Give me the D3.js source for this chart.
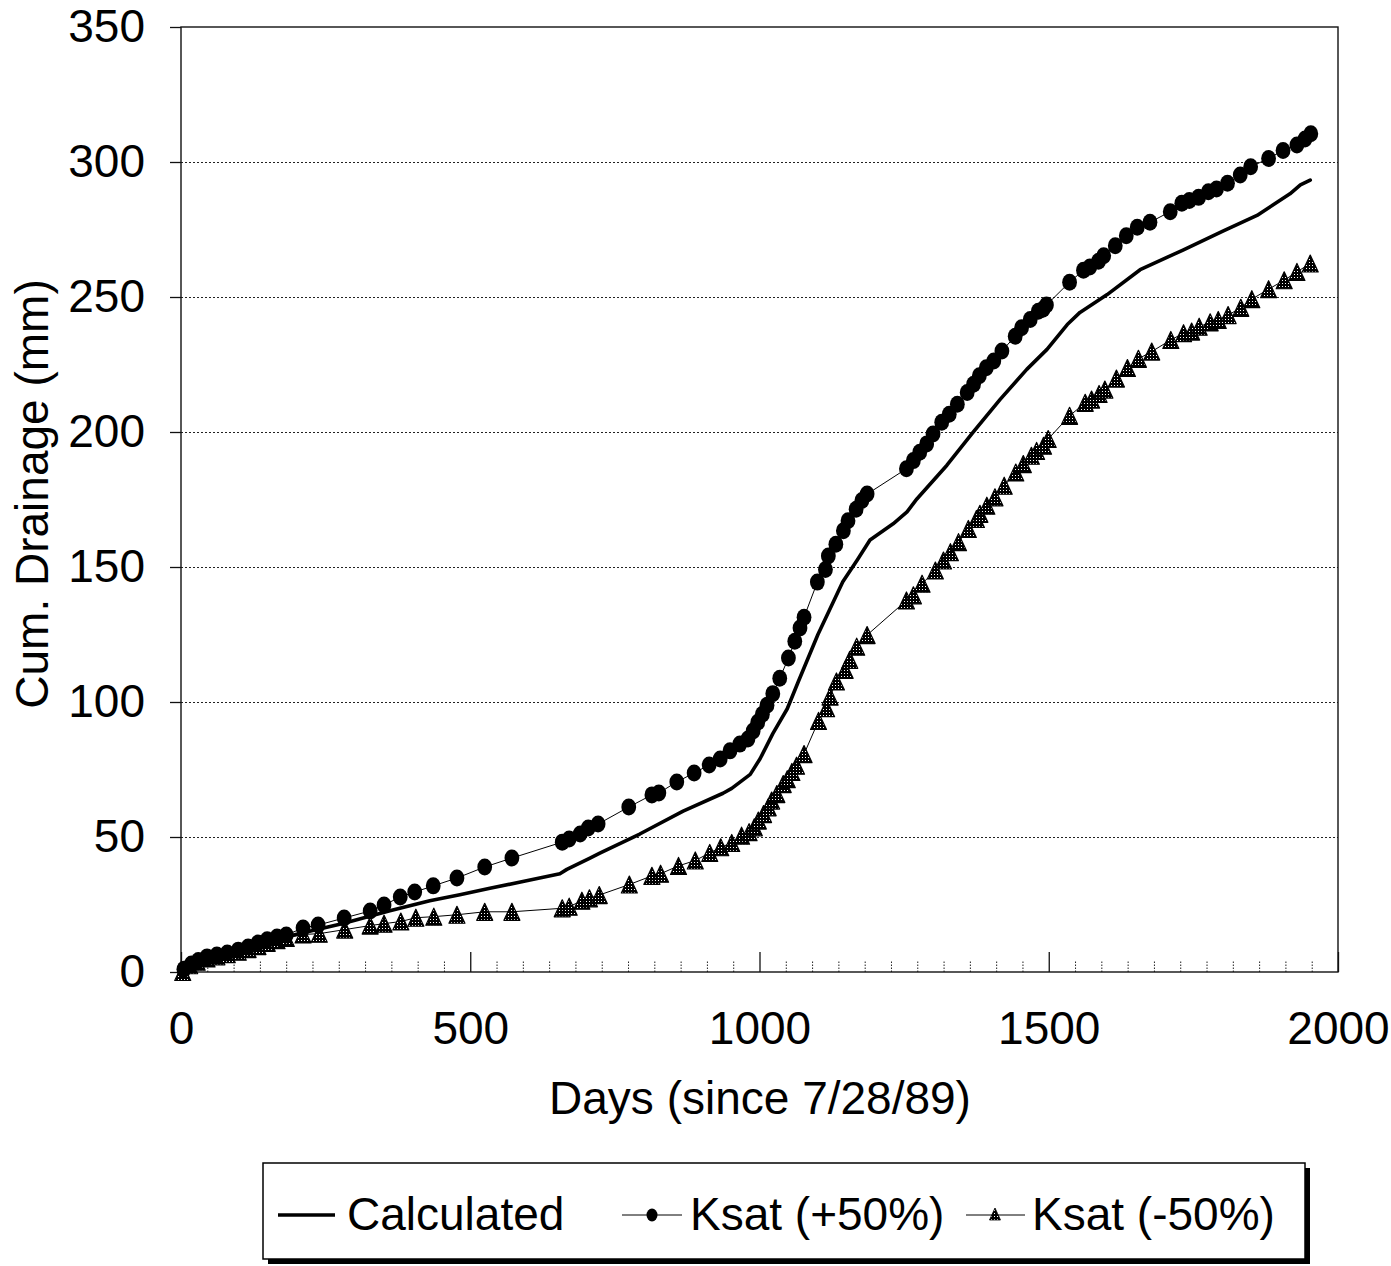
<!DOCTYPE html>
<html>
<head>
<meta charset="utf-8">
<script src="https://cdn.jsdelivr.net/npm/d3@7"></script>
<style>
  body { margin: 0; background: #fff; }
  svg { display: block; }
  text { font-family: "Liberation Sans", Arial, Helvetica, sans-serif; fill: #000; }
</style>
</head>
<body>
<svg id="chart" width="1391" height="1266"></svg>
<script>
// Cumulative drainage (mm) against days since 7/28/89
const calcDays = [0, 10, 30, 60, 100, 150, 200, 280, 361, 430, 482, 534, 591, 655, 667, 707, 724, 793, 868, 937, 952, 984, 1001, 1023, 1048, 1067, 1101, 1122, 1144, 1169, 1191, 1231, 1255, 1272, 1324, 1369, 1416, 1462, 1497, 1532, 1554, 1601, 1658, 1732, 1801, 1860, 1917, 1935, 1952];
const calcValues = [0, 1.5, 3.8, 6, 8.3, 11.3, 14, 18, 22.7, 26.4, 28.6, 31, 33.5, 36.4, 38, 42.2, 44, 51.1, 59.6, 66.2, 68, 73.2, 79, 88.3, 97.5, 107.5, 125, 134.5, 144.5, 152.6, 160, 166, 170.4, 175.2, 187.7, 199.9, 212.1, 223.2, 230.6, 239.8, 244.3, 250.9, 260.1, 267.4, 274.4, 280.2, 288.2, 291.5, 293.3];

const plusDays = [5, 18, 30, 45, 62, 80, 99, 116, 133, 149, 166, 182, 211, 237, 282, 327, 351, 379, 404, 436, 477, 525, 572, 659, 671, 690, 704, 721, 774, 814, 826, 857, 887, 913, 932, 949, 966, 980, 989, 997, 1005, 1013, 1023, 1035, 1050, 1061, 1070, 1077, 1100, 1114, 1119, 1132, 1145, 1153, 1167, 1177, 1186, 1254, 1266, 1277, 1289, 1300, 1315, 1328, 1342, 1359, 1370, 1380, 1392, 1405, 1419, 1442, 1453, 1468, 1482, 1490, 1496, 1536, 1560, 1571, 1586, 1595, 1615, 1634, 1653, 1675, 1710, 1730, 1743, 1759, 1776, 1790, 1809, 1831, 1849, 1880, 1905, 1929, 1943, 1953];
const plusValues = [1, 3, 4.3, 5.6, 6.3, 7.0, 8.1, 9.3, 10.7, 11.9, 13.0, 13.7, 16.3, 17.4, 20, 22.6, 24.8, 27.8, 29.6, 31.9, 34.8, 38.9, 42.2, 48.1, 49.3, 51.1, 53.3, 54.8, 61.1, 65.6, 66.3, 70.4, 73.7, 76.7, 78.9, 81.9, 84.4, 86.3, 89.3, 92.5, 95.5, 98.8, 103.1, 108.8, 116.3, 122.5, 127.4, 131.4, 144.4, 149.1, 154.1, 158.4, 163.4, 167.1, 171.4, 174.6, 177, 186.4, 189.4, 192.5, 195.6, 199.3, 203.6, 206.6, 210.3, 214.6, 217.7, 220.8, 223.8, 226.3, 230, 235.5, 238.6, 241.7, 244.7, 245.5, 247, 255.5, 259.9, 261.1, 263.2, 265.3, 269, 272.7, 275.8, 277.7, 281.6, 284.7, 285.7, 286.9, 289, 290, 292.1, 295.2, 298.2, 301.3, 304.3, 306.3, 308.5, 310.5];

const minusDays = [3, 15, 28, 45, 62, 80, 99, 116, 133, 149, 166, 182, 211, 239, 283, 327, 351, 380, 406, 437, 477, 525, 572, 659, 671, 693, 706, 723, 775, 814, 829, 860, 889, 914, 933, 952, 969, 982, 991, 998, 1007, 1015, 1021, 1030, 1041, 1048, 1056, 1064, 1077, 1102, 1116, 1122, 1133, 1148, 1156, 1168, 1186, 1254, 1266, 1281, 1304, 1318, 1330, 1344, 1361, 1375, 1381, 1393, 1407, 1423, 1443, 1456, 1470, 1479, 1491, 1499, 1536, 1563, 1574, 1587, 1597, 1617, 1636, 1655, 1678, 1711, 1733, 1747, 1760, 1779, 1793, 1810, 1832, 1851, 1880, 1907, 1929, 1952];
const minusValues = [0, 2.5, 3.8, 5, 5.8, 6.6, 7.5, 8.5, 9.6, 10.8, 11.8, 12.6, 13.9, 14.2, 15.7, 17.2, 17.9, 18.7, 20.1, 20.5, 21.2, 22.3, 22.3, 23.6, 24.2, 26.4, 27.3, 28.5, 32.4, 35.6, 36.4, 39.3, 41.3, 44.1, 46.2, 47.8, 50.5, 51.8, 53.6, 56.1, 58.5, 61, 63.5, 65.9, 69.6, 71.4, 74.1, 76.4, 80.7, 93, 97.7, 102, 107.6, 111.9, 115.6, 120.5, 124.8, 137.6, 139.5, 143.8, 148.7, 152.4, 155.5, 159.2, 164.1, 167.8, 169.7, 172.7, 175.8, 180.1, 185, 188.1, 191.2, 193, 194.9, 197.4, 206, 210.8, 212, 214.1, 215.7, 219.8, 223.7, 227.1, 229.8, 234.1, 236.6, 237.2, 239, 240.6, 241.5, 243.3, 246, 249.2, 252.9, 256.2, 259.3, 262.4];

const xTicks = [0, 500, 1000, 1500, 2000];
const yTicks = [0, 50, 100, 150, 200, 250, 300, 350];
const seriesNames = ["Calculated", "Ksat (+50%)", "Ksat (-50%)"];
const xTitle = "Days (since 7/28/89)";
const yTitle = "Cum. Drainage (mm)";

const svg = d3.select("#chart");
const frame = { left: 181, right: 1338, top: 27, bottom: 972 };
const x = d3.scaleLinear().domain([0, 2000]).range([frame.left, frame.right]);
const y = d3.scaleLinear().domain([0, 350]).range([frame.bottom, frame.top]);
const FONT = 46;

svg.append("rect").attr("width", 1391).attr("height", 1266).attr("fill", "#fff");

// Stippled fill used by the triangle markers
const defs = svg.append("defs");
const pat = defs.append("pattern").attr("id", "stipple")
  .attr("patternUnits", "userSpaceOnUse").attr("width", 3).attr("height", 3);
pat.append("rect").attr("width", 3).attr("height", 3).attr("fill", "#000");
pat.append("rect").attr("x", 1).attr("y", 1).attr("width", 1).attr("height", 1).attr("fill", "#fff");

// Dotted horizontal gridlines
svg.append("g")
  .attr("transform", `translate(${frame.left},0)`)
  .call(d3.axisLeft(y).tickValues(yTicks.filter(v => v > 0 && v < 350))
    .tickSize(-(frame.right - frame.left)).tickFormat(""))
  .call(g => g.select(".domain").remove())
  .call(g => g.selectAll("line").attr("stroke", "#222").attr("stroke-width", 1).attr("stroke-dasharray", "2,2"));

// Minor x ticks, short dotted marks rising from the axis
const minorStep = 500 / 11;
const minorTicks = d3.range(0, 2000, minorStep).filter((d, i) => i % 11 !== 0);
svg.append("g")
  .attr("transform", `translate(0,${frame.bottom})`)
  .call(d3.axisBottom(x).tickValues(minorTicks).tickSize(-12).tickFormat(""))
  .call(g => g.select(".domain").remove())
  .call(g => g.selectAll("line").attr("stroke", "#222").attr("stroke-width", 1).attr("stroke-dasharray", "1.5,1.5"));

// X axis: major ticks point inward
svg.append("g")
  .attr("transform", `translate(0,${frame.bottom})`)
  .call(d3.axisBottom(x).tickValues(xTicks).tickSizeInner(-20).tickSizeOuter(0).tickPadding(39).tickFormat(d3.format("d")))
  .call(g => g.select(".domain").remove())
  .call(g => g.selectAll("line").attr("stroke", "#111").attr("stroke-width", 1.3))
  .call(g => g.selectAll("text").attr("font-size", FONT).attr("font-family", "Liberation Sans, Arial, sans-serif").attr("fill", "#000"));

// Y axis: ticks point outward
svg.append("g")
  .attr("transform", `translate(${frame.left},0)`)
  .call(d3.axisLeft(y).tickValues(yTicks).tickSizeInner(11).tickSizeOuter(0).tickPadding(25))
  .call(g => g.select(".domain").remove())
  .call(g => g.selectAll("line").attr("stroke", "#111").attr("stroke-width", 1.3))
  .call(g => g.selectAll("text").attr("font-size", FONT).attr("font-family", "Liberation Sans, Arial, sans-serif").attr("fill", "#000"));

// Plot frame
svg.append("rect")
  .attr("x", frame.left).attr("y", frame.top)
  .attr("width", frame.right - frame.left).attr("height", frame.bottom - frame.top)
  .attr("fill", "none").attr("stroke", "#111").attr("stroke-width", 1.4);

const line = d3.line().x(d => x(d[0])).y(d => y(d[1]));
const plusPts = plusDays.map((d, i) => [d, plusValues[i]]);
const minusPts = minusDays.map((d, i) => [d, minusValues[i]]);
const calcPts = calcDays.map((d, i) => [d, calcValues[i]]);

// Ksat (-50%): thin line with stippled triangles
svg.append("path").datum(minusPts).attr("d", line)
  .attr("fill", "none").attr("stroke", "#000").attr("stroke-width", 1);
const triPath = (cx, cy, w, h) => `M${cx},${cy - h / 2}L${cx + w / 2},${cy + h / 2}L${cx - w / 2},${cy + h / 2}Z`;
svg.append("g").selectAll("path").data(minusPts).join("path")
  .attr("d", d => triPath(x(d[0]), y(d[1]), 16, 17))
  .attr("fill", "url(#stipple)").attr("stroke", "#000").attr("stroke-width", 1.2)
  .attr("stroke-linejoin", "round");

// Ksat (+50%): thin line with solid dots
svg.append("path").datum(plusPts).attr("d", line)
  .attr("fill", "none").attr("stroke", "#000").attr("stroke-width", 1);
svg.append("g").selectAll("ellipse").data(plusPts).join("ellipse")
  .attr("cx", d => x(d[0])).attr("cy", d => y(d[1]))
  .attr("rx", 7.4).attr("ry", 8.5).attr("fill", "#000");

// Calculated: heavy solid line
svg.append("path").datum(calcPts).attr("d", line)
  .attr("fill", "none").attr("stroke", "#000").attr("stroke-width", 3.6)
  .attr("stroke-linejoin", "round").attr("stroke-linecap", "round");

// Axis titles
svg.append("text").attr("x", 760).attr("y", 1114).attr("text-anchor", "middle")
  .attr("font-size", FONT).text(xTitle);
svg.append("text").attr("transform", "translate(48,494) rotate(-90)").attr("text-anchor", "middle")
  .attr("font-size", FONT).text(yTitle);

// Legend box with drop shadow
const lg = svg.append("g");
lg.append("rect").attr("x", 268).attr("y", 1168).attr("width", 1042).attr("height", 96).attr("fill", "#000");
lg.append("rect").attr("x", 263).attr("y", 1163).attr("width", 1042).attr("height", 96)
  .attr("fill", "#fff").attr("stroke", "#000").attr("stroke-width", 1.5);
const ly = 1215, lb = 1230;
lg.append("line").attr("x1", 278).attr("x2", 335).attr("y1", ly).attr("y2", ly)
  .attr("stroke", "#000").attr("stroke-width", 3.6);
lg.append("text").attr("x", 347).attr("y", lb).attr("font-size", FONT).text(seriesNames[0]);
lg.append("line").attr("x1", 622).attr("x2", 682).attr("y1", ly).attr("y2", ly)
  .attr("stroke", "#000").attr("stroke-width", 1);
lg.append("ellipse").attr("cx", 652).attr("cy", ly).attr("rx", 5.5).attr("ry", 6.5).attr("fill", "#000");
lg.append("text").attr("x", 690).attr("y", lb).attr("font-size", FONT).text(seriesNames[1]);
lg.append("line").attr("x1", 966).attr("x2", 1025).attr("y1", ly).attr("y2", ly)
  .attr("stroke", "#000").attr("stroke-width", 1);
lg.append("path").attr("d", triPath(995, ly - 1, 11, 12))
  .attr("fill", "url(#stipple)").attr("stroke", "#000").attr("stroke-width", 0.8);
lg.append("text").attr("x", 1032).attr("y", lb).attr("font-size", FONT).text(seriesNames[2]);
</script>
</body>
</html>
